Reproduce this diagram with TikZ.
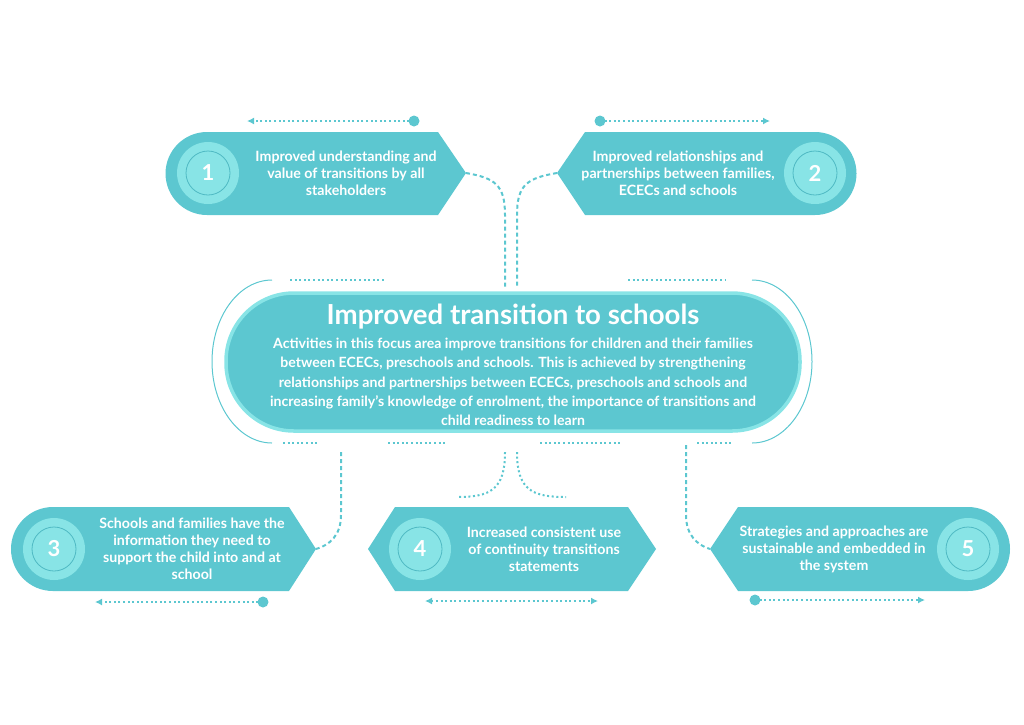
\documentclass[tikz,border=0pt]{standalone}
\usepackage{fontspec}
\setmainfont{Lato}
\usetikzlibrary{arrows.meta}
\definecolor{teal1}{HTML}{5CC7D0}
\definecolor{teal2}{HTML}{88E4E6}
\definecolor{teal3}{HTML}{4FB9C3}
\begin{document}
\begin{tikzpicture}[x=1pt,y=-1pt]
	\def \toprow{173}
	\def \botrow{549}
	\tikzstyle{box}=[fill=teal1,draw=none]
	\tikzstyle{ring}=[circle,fill=teal2,minimum size=62pt,inner sep=0pt]
	\tikzstyle{num}=[circle,draw=teal3,line width=0.8pt,minimum size=44pt,inner sep=0pt,text=white,font=\fontsize{22}{24}\selectfont\bfseries]
	\tikzstyle{btext}=[text=white,align=center,font=\fontsize{14.2}{17}\selectfont\bfseries]
	\tikzstyle{dots}=[teal1,line width=2pt,dash pattern=on 2pt off 2.6pt]
	\tikzstyle{dashes}=[teal1,line width=2pt,dash pattern=on 4pt off 3pt]
	\tikzstyle{arc}=[teal1,line width=1pt]
	\tikzstyle{tip}=[-{Latex[length=7pt,width=7pt]}]
	\useasboundingbox (0,0) rectangle (1024,724);
	% outlined arcs around the centre
	\draw[arc] (272,280) arc[start angle=-90,end angle=-270,x radius=60,y radius=81.5];
	\draw[arc] (752,280) arc[start angle=-90,end angle=90,x radius=60,y radius=81.5];
	% centre box
	\draw[fill=teal1,draw=teal2,line width=3.5pt,rounded corners=68pt] (226,293) rectangle (800,431);
	\node[text=white,font=\fontsize{27.6}{30}\selectfont\bfseries] (title) at (513,317) {Improved transition to schools};
	\node[btext,font=\fontsize{14.1}{19.3}\selectfont\bfseries] (desc) at (513,382) {Activities in this focus area improve transitions for children and their families\\between ECECs, preschools and schools. This is achieved by strengthening\\relationships and partnerships between ECECs, preschools and schools and\\increasing family's knowledge of enrolment, the importance of transitions and\\child readiness to learn};
	% dotted rules
	\draw[dots] (290,280) -- (385,280);
	\draw[dots] (628,280) -- (725,280);
	\draw[dots] (283,443) -- (318,443);
	\draw[dots] (388,443) -- (447,443);
	\draw[dots] (540,443) -- (620,443);
	\draw[dots] (697,443) -- (733,443);
	
	% box 1
	\draw[box] (207,132) -- (438,132) -- (466,\toprow) -- (438,215) -- (207,215) arc[start angle=90,end angle=270,radius=41.5] -- cycle;
	\node[ring] at (208,\toprow) {};
	\node[num] (n1) at (208,\toprow) {1};
	\node[btext] (t1) at (346,\toprow) {Improved understanding and\\value of transitions by all\\stakeholders};
	\coordinate (p1) at (466,\toprow);
	% box 2
	\draw[box] (815,132) -- (585,132) -- (557,\toprow) -- (585,215) -- (815,215) arc[start angle=90,end angle=-90,radius=41.5] -- cycle;
	\node[ring] at (815,\toprow) {};
	\node[num] (n2) at (815,\toprow) {2};
	\node[btext] (t2) at (678,\toprow) {Improved relationships and\\partnerships between families,\\ECECs and schools};
	\coordinate (p2) at (557,\toprow);
	% box 3
	\draw[box] (53,507) -- (289,507) -- (316,\botrow) -- (289,591) -- (53,591) arc[start angle=90,end angle=270,radius=42] -- cycle;
	\node[ring] at (54,\botrow) {};
	\node[num] (n3) at (54,\botrow) {3};
	\node[btext] (t3) at (192,\botrow) {Schools and families have the\\information they need to\\support the child into and at\\school};
	\coordinate (p3) at (316,\botrow);
	% box 4
	\draw[box] (395,507) -- (628,507) -- (656,\botrow) -- (628,591) -- (395,591) -- (368,\botrow) -- cycle;
	\node[ring] at (420,\botrow) {};
	\node[num] (n4) at (420,\botrow) {4};
	\node[btext] (t4) at (544,\botrow) {Increased consistent use\\of continuity transitions\\statements};
	\coordinate (p4a) at (457,497);
	\coordinate (p4b) at (566,497);
	% box 5
	\draw[box] (968,507) -- (738,507) -- (710,\botrow) -- (738,591) -- (968,591) arc[start angle=90,end angle=-90,radius=42] -- cycle;
	\node[ring] at (968,\botrow) {};
	\node[num] (n5) at (968,\botrow) {5};
	\node[btext] (t5) at (834,\botrow) {Strategies and approaches are\\sustainable and embedded in\\the system};
	\coordinate (p5) at (710,\botrow);
	
	% connectors
	\coordinate (c1) at (505,287);
	\coordinate (c2) at (517,287);
	\coordinate (c3) at (341,452);
	\coordinate (c4a) at (505,452);
	\coordinate (c4b) at (517,452);
	\coordinate (c5) at (686,445);
	\draw[dashes] (p1) .. controls (495,178) and (505,185) .. (505,215) -- (c1);
	\draw[dashes] (p2) .. controls (527,178) and (517,185) .. (517,215) -- (c2);
	\draw[dashes] (c3) -- (341,515) .. controls (341,535) and (330,545) .. (p3);
	\draw[dashes] (c5) -- (686,515) .. controls (686,535) and (697,545) .. (p5);
	\draw[dots] (c4a) .. controls (505,490) and (490,497) .. (p4a);
	\draw[dots] (c4b) .. controls (517,490) and (532,497) .. (p4b);
	
	% dotted arrows
	\coordinate (a1s) at (414,121); \coordinate (a1e) at (247,121);
	\coordinate (a2s) at (600,121); \coordinate (a2e) at (770,121);
	\coordinate (a3s) at (263,602); \coordinate (a3e) at (95,602);
	\coordinate (a4s) at (425,601); \coordinate (a4e) at (598,601);
	\coordinate (a5s) at (755,600); \coordinate (a5e) at (925,600);
	\foreach \s/\e in {a1s/a1e,a2s/a2e,a3s/a3e,a5s/a5e}{
		\fill[teal1] (\s) circle (5.5pt);
		\draw[dots,tip] (\s) -- (\e);
	}
	\draw[dots,{Latex[length=7pt,width=7pt]}-{Latex[length=7pt,width=7pt]}] (a4s) -- (a4e);
\end{tikzpicture}
\end{document}
